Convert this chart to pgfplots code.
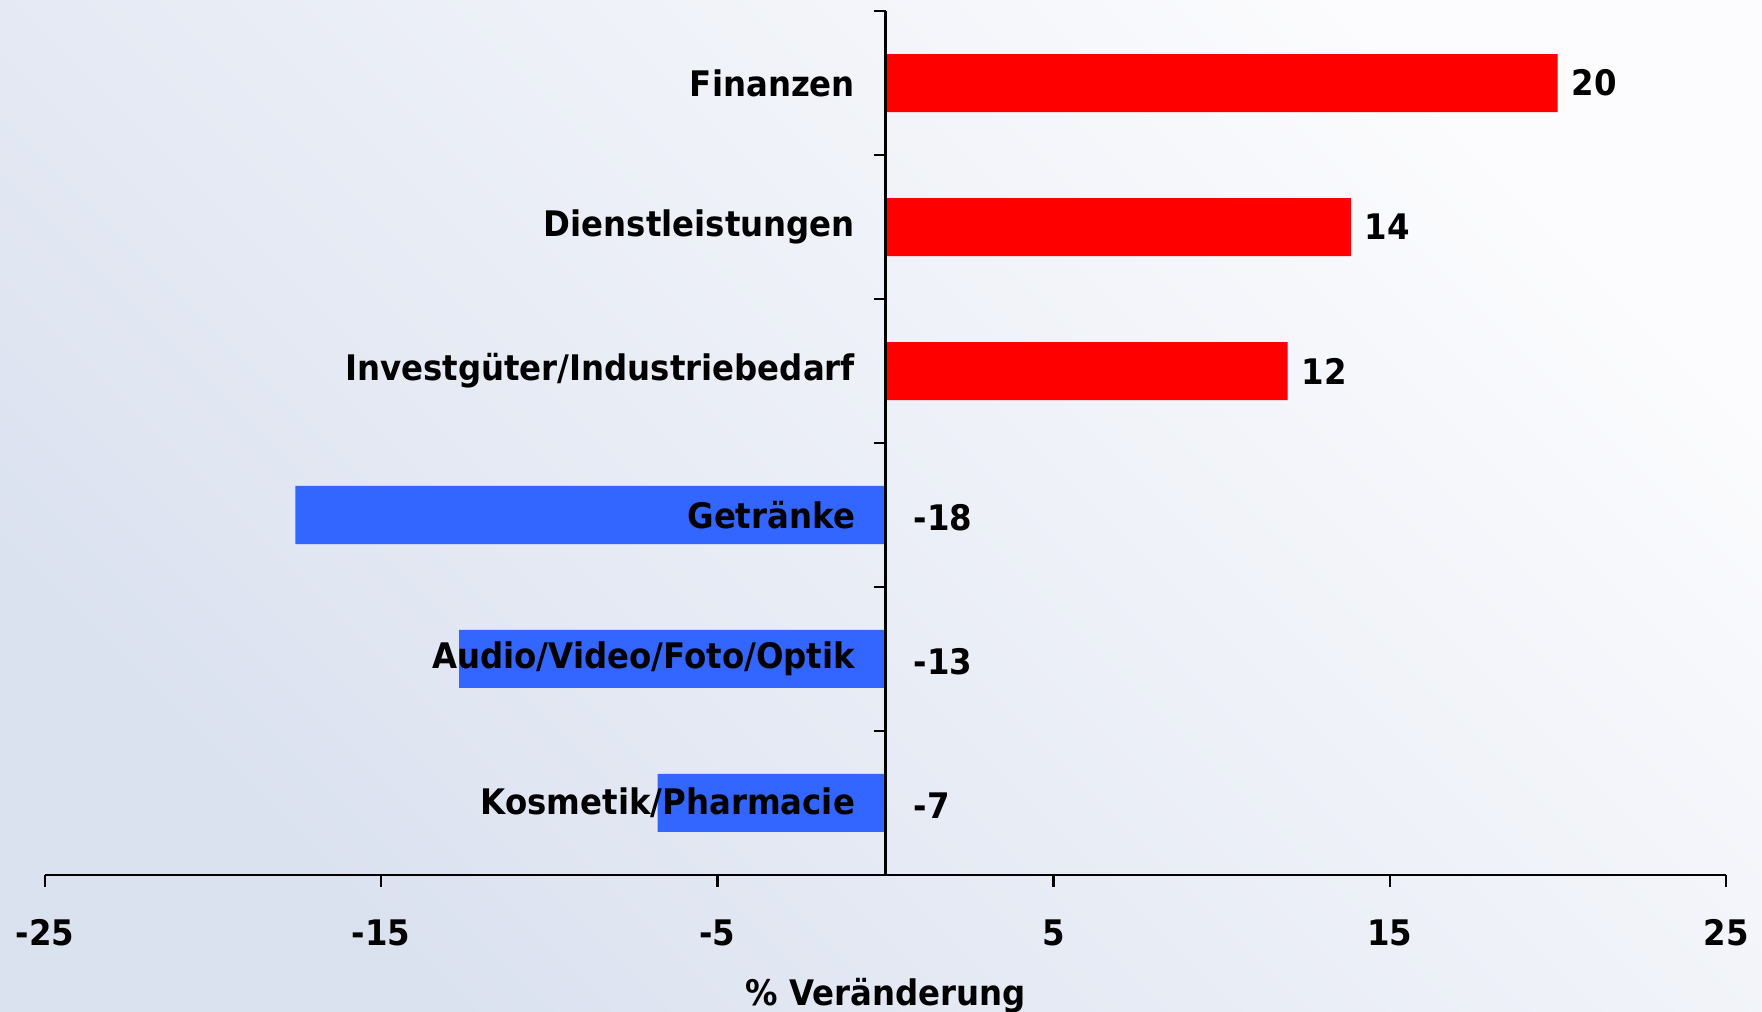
\documentclass[border=0pt]{standalone}
\usepackage{fontspec}
\setmainfont{DejaVu Sans}[BoldFont=DejaVu Sans Bold, FakeStretch=0.92]
\usepackage{pgfplots}
\pgfplotsset{compat=1.18}
\usetikzlibrary{backgrounds}

\definecolor{barred}{RGB}{255,0,0}
\definecolor{barblue}{RGB}{51,102,255}
\definecolor{bgdark}{RGB}{218,225,239}
\definecolor{bglight}{RGB}{252,252,254}

\newcommand{\lblfont}{\fontsize{8.8}{10}\selectfont\bfseries}

\begin{document}
\begin{tikzpicture}
\begin{axis}[
    xbar,
    bar width=14.5pt,
    bar shift=0pt,
    axis on top,
    scale only axis,
    width=420.25pt,
    height=216pt,
    xmin=-25, xmax=25,
    ymin=-0.5, ymax=5.5,
    axis x line=bottom,
    axis y line=middle,
    axis line style={-, black, line width=0.6pt},
    xtick={-25,-15,-5,5,15,25},
    x tick style={black, line width=0.6pt},
    xtick align=outside,
    major tick length=3pt,
    /pgf/number format/assume math mode=true,
    xticklabel style={font=\lblfont, yshift=-4.6pt},
    ytick={0,1,2,3,4,5},
    yticklabels={Kosmetik/Pharmacie, Audio/Video/Foto/Optik, Getränke,
                 Investgüter/Industriebedarf, Dienstleistungen, Finanzen},
    y tick style={draw=none},
    minor ytick={-0.5,0.5,...,5.5},
    minor tick length=3pt,
    minor y tick style={draw=black, line width=0.6pt, xshift=-1.5pt},
    yticklabel style={font=\lblfont, anchor=east, xshift=-2.6pt},
    xlabel={\% Veränderung},
    xlabel style={font=\lblfont, at={(axis description cs:0.5,0)}, anchor=base, yshift=-32.7pt},
    nodes near coords={\pgfmathprintnumber[fixed, precision=0]{\pgfplotspointmeta}},
    every node near coord/.append style={font=\lblfont, black},
]
% positive changes
\addplot[fill=barred, draw=none, nodes near coords align=horizontal]
    coordinates {(19.99,5) (13.84,4) (11.96,3)};
% negative changes (labels placed to the right of the zero line)
\addplot[fill=barblue, draw=none, nodes near coords=]
    coordinates {(-17.55,2) (-12.68,1) (-6.78,0)};
\addplot[sharp plot, draw=none, mark=none, point meta=explicit,
    every node near coord/.append style={anchor=west, xshift=3.5pt, yshift=-0.6pt}]
    coordinates {(0,2) [-17.55] (0,1) [-12.68] (0,0) [-6.78]};
\end{axis}
\begin{scope}[on background layer]
\shade[top color=bglight, bottom color=bgdark, shading angle=-45]
    ([shift={(-11.25pt,-34.25pt)}]current axis.south west)
    rectangle ([shift={(9pt,2.75pt)}]current axis.north east);
\end{scope}
\pgfresetboundingbox
\path[use as bounding box]
    ([shift={(-11.25pt,-34.25pt)}]current axis.south west)
    rectangle ([shift={(9pt,2.75pt)}]current axis.north east);
\end{tikzpicture}
\end{document}
